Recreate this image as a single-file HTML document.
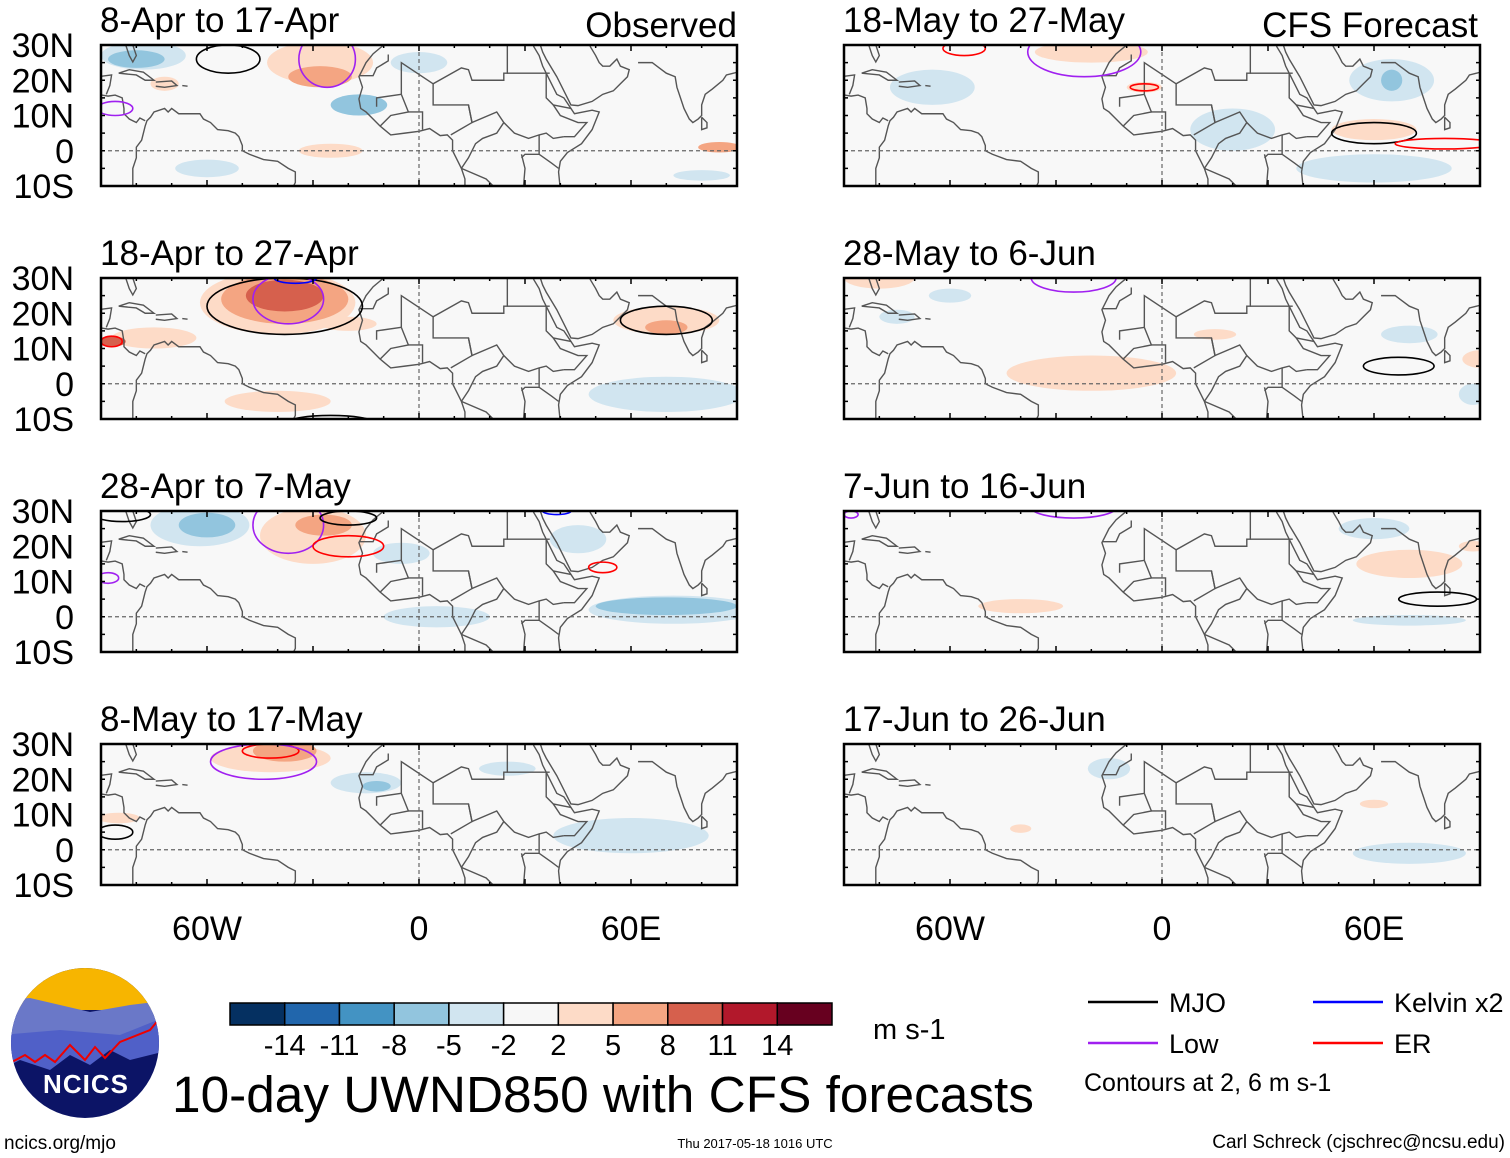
<!DOCTYPE html>
<html><head><meta charset="utf-8"><style>
body{margin:0;background:#fff;width:1510px;height:1158px;overflow:hidden;font-family:"Liberation Sans",sans-serif}
svg{position:absolute;left:0;top:0}
</style></head><body>
<svg id="fig" width="1510" height="1158" viewBox="0 0 1510 1158"></svg>
<script>
const titles=["8-Apr to 17-Apr","18-Apr to 27-Apr","28-Apr to 7-May","8-May to 17-May","18-May to 27-May","28-May to 6-Jun","7-Jun to 16-Jun","17-Jun to 26-Jun"];
const latTicks=["30N","20N","10N","0","10S"];
const lonTicks=["60W","0","60E"];
const lonTickVals=[-60,0,60];
const cbLevels=["-14","-11","-8","-5","-2","2","5","8","11","14"];
const cbColors=["#053061","#2166ac","#4393c3","#92c5de","#d1e5f0","#f7f7f7","#fddbc7","#f4a582","#d6604d","#b2182b","#67001f"];
// shaded anomaly blobs (one line per panel): panel, lon, lat, rx(deg), ry(deg), colour index
const blobPanel=[
 0,0,0,0,0,0,0,0,0,0,0,
 1,1,1,1,1,1,1,1,1,1,
 2,2,2,2,2,2,2,2,2,
 3,3,3,3,3,3,3,
 4,4,4,4,4,4,4,4,
 5,5,5,5,5,5,5,5,
 6,6,6,6,6,
 7,7,7,7];
const blobLon=[
 -78,-80,-28,-28,-17,-25,-60,-72,0,80,85,
 -40,-38,-38,-75,-87,70,70,-40,70,-20,
 -62,-60,-30,-27,72,70,5,-5,45,
 -42,-38,-15,-12,60,-85,25,
 -20,-65,60,60,20,65,65,-5,
 -20,-60,-75,70,90,88,-80,15,
 70,88,-40,70,60,
 70,60,-40,-15];
const blobLat=[
 27,26,25,21,13,0,-5,19,25,-7,1,
 23,24,25,13,12,18,16,-5,-3,17,
 26,26,23,26,2,3,0,18,22,
 26,28,19,18,4,9,23,
 28,18,6,-5,6,20,20,18,
 3,25,19,14,7,-3,30,14,
 15,20,3,-1,25,
 -1,13,6,23];
const blobRx=[
 12,8,15,9,8,9,9,4,8,8,6,
 22,18,11,12,4,15,6,15,22,8,
 14,8,15,8,24,20,15,8,8,
 17,9,10,4,22,6,8,
 16,12,12,22,12,12,3,5,
 24,6,5,8,5,4,10,6,
 15,4,12,16,10,
 16,4,3,6];
const blobRy=[
 4,2.5,6,3,3,2,2.5,2,3,1.5,1.5,
 9,7,4.5,3,1.5,4,2,3,5,2,
 6,3.5,8,3,4,2.5,3,3,4,
 4,3,3,1.5,5,1.5,2,
 3,5,3,4,6,6,3,1.5,
 5,2,2,2.5,2.5,3,3,1.5,
 4,1.5,2,1.5,3,
 3,1.2,1.2,3];
const blobLevel=[
 4,3,6,7,3,6,4,6,4,4,7,
 6,7,8,6,8,6,7,6,4,6,
 4,3,6,7,4,3,4,4,4,
 6,7,4,3,4,6,4,
 6,4,6,4,4,4,3,6,
 6,4,4,4,6,4,6,6,
 6,6,6,4,4,
 4,6,6,4];
// contours: panel, lon, lat, rx, ry, type (0 MJO,1 Low,2 Kelvin,3 ER)
const ctPanel=[0,0,0, 1,1,1,1,1,1, 2,2,2,2,2,2,2, 3,3,3, 4,4,4,4,4, 5,5, 6,6,6];
const ctLon=[-54,-26,-86, -38,-37,-35,70,-25,-87, -37,-20,-84,-20,52,39,-88, -42,-44,-86, -56,-22,-5,60,80, -25,67, 78,-25,-88];
const ctLat=[26,26,12, 22,24,30,18,-11,12, 26,20,29,28,14,30,11, 28,25,5, 29,28,18,5,2, 30,5, 5,31,29];
const ctRx=[9,8,5, 22,10,6,13,12,3, 10,10,8,8,4,4,3, 8,15,5, 6,16,4,12,14, 12,10, 11,12,2];
const ctRy=[4,8,2, 8,7,1.5,4,2,1.5, 8,3,2,2,1.5,1,1.5, 2,5,2, 2,7,1,3,1.5, 4,2.5, 2,3,1];
const ctType=[0,1,1, 0,1,2,0,0,3, 1,3,0,0,3,2,1, 3,1,0, 3,1,3,0,3, 1,0, 0,1,1];
const ctColor=["#000","#a020f0","#0000ff","#ff0000"];

const NS="http://www.w3.org/2000/svg";
const svg=document.getElementById('fig');
function el(t,a,p){const e=document.createElementNS(NS,t);for(const k in a)e.setAttribute(k,a[k]);(p||svg).appendChild(e);return e;}
const PW=636,PH=141;
function px(i){return i<4?101:844;}
function py(i){return [45,278,511,744][i%4];}
function xs(i,lon){return px(i)+(lon+90)/180*PW;}
function ys(i,lat){return py(i)+(30-lat)/40*PH;}
const coasts=[
 [[-10,31],[-10,30],[-13,27.5],[-15,25],[-16,23],[-17,21],[-16,18],[-17,14.7],[-16.5,12],[-15,11],[-13,9],[-11,7],[-8,4.5],[-4,5],[0,5.5],[3,6.3],[6,4.3],[8,4.5],[9.5,3],[9.5,0],[11,-3],[12,-5],[13,-8],[13,-11]],
 [[40,-11],[39.5,-6],[40,-3],[42,-0.5],[46,2],[49,6],[51,11],[49,11.5],[44,10.5],[43,12],[41,15],[39,16],[38,18],[36,22],[35,24],[34,27],[32.5,29.5],[32,31]],
 [[34,31],[35,28],[36,26],[39,21],[41,17],[43,13],[45,12.8],[49,14],[52,16],[55,17],[57,19],[59,21],[59.5,23],[57,24],[56,26],[54,24],[52,24],[51,25],[50,27],[48.5,29.5],[48,31]],
 [[62,25],[66,25],[68,23.5],[70,22],[72.5,21],[73,18],[74,15],[75,12],[76.5,9],[77.5,8],[79,9],[80,10],[80,13],[81,16],[83,17.5],[86,20],[87,21.5],[89,22],[91,22.5],[92,21]],
 [[80,9.5],[81.5,8],[81.5,6.5],[80,6],[80,9.5]],
 [[-81,-10],[-81,-5],[-80,-2],[-80,1],[-78.5,3],[-77.5,7],[-77,8.5],[-76,9.5],[-75,11],[-72,12],[-71,11],[-70,12],[-68,10.5],[-64,10.5],[-62,10.5],[-61,9],[-59,8],[-57,6],[-54,5.7],[-52,5],[-51,4],[-50,1.5],[-50,0],[-48,-1],[-44,-2.5],[-40,-3],[-37,-5],[-35,-6],[-35,-9],[-36,-11]],
 [[-91,16],[-88,15.5],[-86,15.8],[-84,15],[-83.5,12],[-83.5,10.5],[-82,9],[-80,8],[-79,9.3],[-77.5,8.5]],
 [[-91,21],[-87,21.5],[-87.5,18.5],[-88.5,16]],[[-83,30],[-82,27],[-81,25.2],[-80,27],[-81,30],[-81.3,31]],
 [[-85,22],[-82,23],[-78,22.3],[-75,20],[-77.5,20],[-80,21.5],[-85,22]],[[-74.5,19.5],[-70,19.8],[-68.5,18.5],[-72,18],[-74.5,18.3]],[[-67,18.5],[-65.5,18.3]],
 [[-8.7,27.3],[-8.7,25.5],[-12,23.5],[-13,21.3],[-17,21.3]],[[-5,16],[-12,15],[-12,12.5]],[[-5,16],[-5,25],[4,19],[12,23.5],[14,23],[15,20],[24,20],[24,22],[25,22],[25,31]],
 [[4,19],[4,13],[14,13],[15,8],[22,11],[24,8],[27,5],[31,3.5],[34,4.5],[36,5],[38,3.5],[41,4]],[[25,22],[37,22]],[[12,-5],[19,-8],[22,-11]],[[-5,16],[-3,11],[-8,10],[-11,7]],[[1,6],[1,11],[-3,11]],[[14,13],[15,8],[9,4.5]],[[24,8],[22,5],[18,3.5],[16,2],[14,-2],[12,-5]],[[29,-1],[30,-5],[29.5,-11]],[[34,4.5],[34,-1],[37.5,-3.5],[39.5,-5]],[[34,-1],[30,-1],[29,-2]],[[36,22],[36,15],[38,13],[43,12]],[[38,13],[40,10],[45,8],[47.5,8],[44,4],[41,4]]
];
for(let i=0;i<8;i++){
  const g=el('g',{});
  
  
  const cid='c'+i;
  const cp=el('clipPath',{id:cid},g);el('rect',{x:px(i),y:py(i),width:PW,height:PH},cp);
  el('rect',{x:px(i),y:py(i),width:PW,height:PH,fill:'#f8f8f8'},g);
  const inner=el('g',{'clip-path':'url(#'+cid+')'},g);
  for(let b=0;b<blobPanel.length;b++){ if(blobPanel[b]!==i)continue;
    const e=el('ellipse',{cx:xs(i,blobLon[b]),cy:ys(i,blobLat[b]),rx:blobRx[b]/180*PW,ry:blobRy[b]/40*PH,fill:cbColors[blobLevel[b]]},inner);
    
    
  }
  for(const c of coasts){
    el('polyline',{points:c.map(p=>xs(i,p[0])+','+ys(i,p[1])).join(' '),fill:'none',stroke:'#555','stroke-width':1.4},inner);
  }
  for(let c=0;c<ctPanel.length;c++){ if(ctPanel[c]!==i)continue;
    const e=el('ellipse',{cx:xs(i,ctLon[c]),cy:ys(i,ctLat[c]),rx:ctRx[c]/180*PW,ry:ctRy[c]/40*PH,fill:'none',stroke:ctColor[ctType[c]],'stroke-width':1.6},inner);
    
    
  }
  el('line',{x1:px(i),x2:px(i)+PW,y1:ys(i,0),y2:ys(i,0),stroke:'#666','stroke-dasharray':'4,3','stroke-width':1.2},g);
  el('line',{x1:xs(i,0),x2:xs(i,0),y1:py(i),y2:py(i)+PH,stroke:'#666','stroke-dasharray':'4,3','stroke-width':1.2},g);
  el('rect',{x:px(i),y:py(i),width:PW,height:PH,fill:'none',stroke:'#000','stroke-width':2.5},g);
  for(let lon=-90;lon<=90;lon+=10){const x=xs(i,lon);const L=lon%30===0?6:3;
    el('line',{x1:x,x2:x,y1:py(i),y2:py(i)+L,stroke:'#000','stroke-width':1.5},g);
    el('line',{x1:x,x2:x,y1:py(i)+PH,y2:py(i)+PH-L,stroke:'#000','stroke-width':1.5},g);}
  for(let lat=-10;lat<=30;lat+=5){const y=ys(i,lat);
    el('line',{x1:px(i),x2:px(i)+4,y1:y,y2:y,stroke:'#000','stroke-width':1.5},g);
    el('line',{x1:px(i)+PW,x2:px(i)+PW-4,y1:y,y2:y,stroke:'#000','stroke-width':1.5},g);}
  const t=el('text',{x:px(i)-1,y:py(i)-13,'font-size':35},g);t.textContent=titles[i];
  
  
  if(i<4){latTicks.forEach((s,k)=>{const tt=el('text',{x:74,y:py(i)+k*35.25+12,'font-size':34,'text-anchor':'end'},g);tt.textContent=s;
    
    });}
}
[[737,"Observed"],[1478,"CFS Forecast"]].forEach(([x,s])=>{const t=el('text',{x:x,y:37,'font-size':35,'text-anchor':'end'});t.textContent=s;
  
  });
[3,7].forEach(i=>lonTicks.forEach((s,k)=>{const t=el('text',{x:xs(i,lonTickVals[k]),y:940,'font-size':34,'text-anchor':'middle'});t.textContent=s;
  
  }));
const cb=el('g',{});


const cbx=230,cbw=602/11;
cbColors.forEach((c,k)=>el('rect',{x:cbx+k*cbw,y:1003,width:cbw,height:22,fill:c,stroke:'#000','stroke-width':1.5},cb));
cbLevels.forEach((s,k)=>{const t=el('text',{x:cbx+(k+1)*cbw,y:1055,'font-size':29,'text-anchor':'middle'},cb);t.textContent=s;});
const u=el('text',{x:873,y:1039,'font-size':29});u.textContent="m s-1";


const ti=el('text',{x:172,y:1112,'font-size':51,textLength:862,lengthAdjust:'spacingAndGlyphs'});ti.textContent="10-day UWND850 with CFS forecasts";


const lg=el('g',{});


[[1088,1002,'#000','MJO'],[1088,1043,'#a020f0','Low'],[1313,1002,'#0000ff','Kelvin x2'],[1313,1043,'#ff0000','ER']].forEach(([x,y,c,s])=>{
  el('line',{x1:x,x2:x+70,y1:y,y2:y,stroke:c,'stroke-width':2.5},lg);
  const t=el('text',{x:x+81,y:y+10,'font-size':27},lg);t.textContent=s;});
const ct=el('text',{x:1084,y:1091,'font-size':25});ct.textContent="Contours at 2, 6 m s-1";


const f1=el('text',{x:4,y:1149,'font-size':19});f1.textContent="ncics.org/mjo";


const f2=el('text',{x:755,y:1148,'font-size':13,'text-anchor':'middle'});f2.textContent="Thu 2017-05-18 1016 UTC";


const f3=el('text',{x:1505,y:1148,'font-size':19,'text-anchor':'end'});f3.textContent="Carl Schreck (cjschrec@ncsu.edu)";


const lo=el('g',{});


const lc=el('clipPath',{id:'lc'},lo);el('ellipse',{cx:85,cy:1043,rx:74,ry:75},lc);
const li=el('g',{'clip-path':'url(#lc)'},lo);
el('rect',{x:0,y:960,width:170,height:170,fill:'#0c1466'},li);
el('rect',{x:0,y:960,width:170,height:50,fill:'#f7b500'},li);
el('polygon',{points:'0,1000 30,998 90,1012 130,1005 170,1000 170,1035 130,1050 70,1040 0,1040',fill:'#6a78c8'},li);
el('polygon',{points:'0,1035 60,1030 120,1035 170,1015 170,1050 130,1060 110,1050 90,1065 70,1055 50,1070 20,1060 0,1070',fill:'#5060c8'},li);
el('polyline',{points:'10,1063 25,1055 35,1062 45,1055 55,1062 70,1045 85,1060 95,1047 105,1058 120,1042 150,1030 165,1012',fill:'none',stroke:'#e00','stroke-width':2},li);
const lt=el('text',{x:86,y:1093,'font-size':26,'font-weight':'bold',fill:'#fff','text-anchor':'middle','letter-spacing':'1'},lo);lt.textContent="NCICS";
</script>
</body></html>
